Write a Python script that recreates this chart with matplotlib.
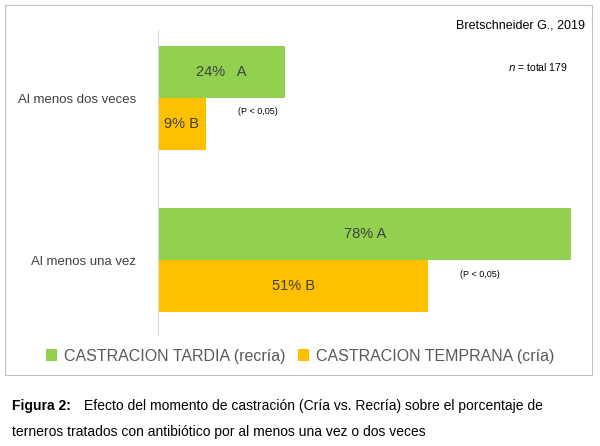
"""
Castration timing vs. antibiotic treatment — horizontal grouped bar chart.
"""

import matplotlib
matplotlib.use('Agg')
import matplotlib.pyplot as plt
from matplotlib.patches import Rectangle

plt.rcParams['font.family'] = ['Liberation Sans', 'DejaVu Sans']

GREEN  = '#92D050'
ORANGE = '#FFC000'

GROUPS = ['Al menos dos veces', 'Al menos una vez']
TARDIA   = [24, 78]   # % recria
TEMPRANA = [9, 51]    # % cria
LBL_T = ['24%   A', '78% A']
LBL_E = ['9% B', '51% B']


def main():
    fig = plt.figure(figsize=(6.0, 4.46), dpi=100)

    # frame around the chart area
    fig.patches.append(Rectangle((5 / 600, 1 - 375 / 446), 587 / 600, 370 / 446,
                                 transform=fig.transFigure, fill=False,
                                 edgecolor='#BFBFBF', linewidth=0.8))

    ax = fig.add_axes([158 / 600, 1 - 335 / 446, 424 / 600, 305 / 446])
    h = 0.32
    ys = [0, 1]
    ax.barh([y - h / 2 for y in ys], TARDIA, height=h, color=GREEN,
            label='CASTRACION TARDIA (recría)')
    ax.barh([y + h / 2 for y in ys], TEMPRANA, height=h, color=ORANGE,
            label='CASTRACION TEMPRANA (cría)')

    for y, v, s in zip(ys, TARDIA, LBL_T):
        ax.text(v / 2, y - h / 2, s, ha='center', va='center', fontsize=10.5, color='#404040')
    for y, v, s in zip(ys, TEMPRANA, LBL_E):
        ax.text(v / 2, y + h / 2, s, ha='center', va='center', fontsize=10.5, color='#404040')

    ax.set_xlim(0, 80)
    ax.set_ylim(1.46, -0.42)
    ax.set_yticks(ys)
    ax.set_yticklabels(GROUPS, fontsize=9.5, color='#404040')
    ax.tick_params(axis='y', length=0, pad=16)
    ax.set_xticks([])
    for side in ('top', 'right', 'bottom'):
        ax.spines[side].set_visible(False)
    ax.spines['left'].set_color('#D9D9D9')

    ax.text(15, 0.10, '(P < 0,05)', fontsize=6.5)
    ax.text(57, 1.10, '(P < 0,05)', fontsize=6.5)

    fig.text(585 / 600, 1 - 25 / 446, 'Bretschneider G., 2019', ha='right',
             va='center', fontsize=9)
    fig.text(568 / 600, 1 - 67 / 446, r'$\it{n}$ = total 179', ha='right',
             va='center', fontsize=7.5)

    ax.legend(loc='center', bbox_to_anchor=(300 / 600, 1 - 356 / 446),
              bbox_transform=fig.transFigure, ncol=2, frameon=False,
              fontsize=11.5, handlelength=0.7, handleheight=0.7,
              columnspacing=0.8, handletextpad=0.4, labelcolor='#595959')

    fig.text(12 / 600, 1 - 406 / 446, 'Figura 2:', fontweight='bold',
             va='center', fontsize=10)
    fig.text(84 / 600, 1 - 406 / 446,
             'Efecto del momento de castración (Cría vs. Recría) sobre el porcentaje de',
             va='center', fontsize=10)
    fig.text(12 / 600, 1 - 432 / 446,
             'terneros tratados con antibiótico por al menos una vez o dos veces',
             va='center', fontsize=10)

    fig.savefig('out.png', dpi=100)


if __name__ == '__main__':
    main()
